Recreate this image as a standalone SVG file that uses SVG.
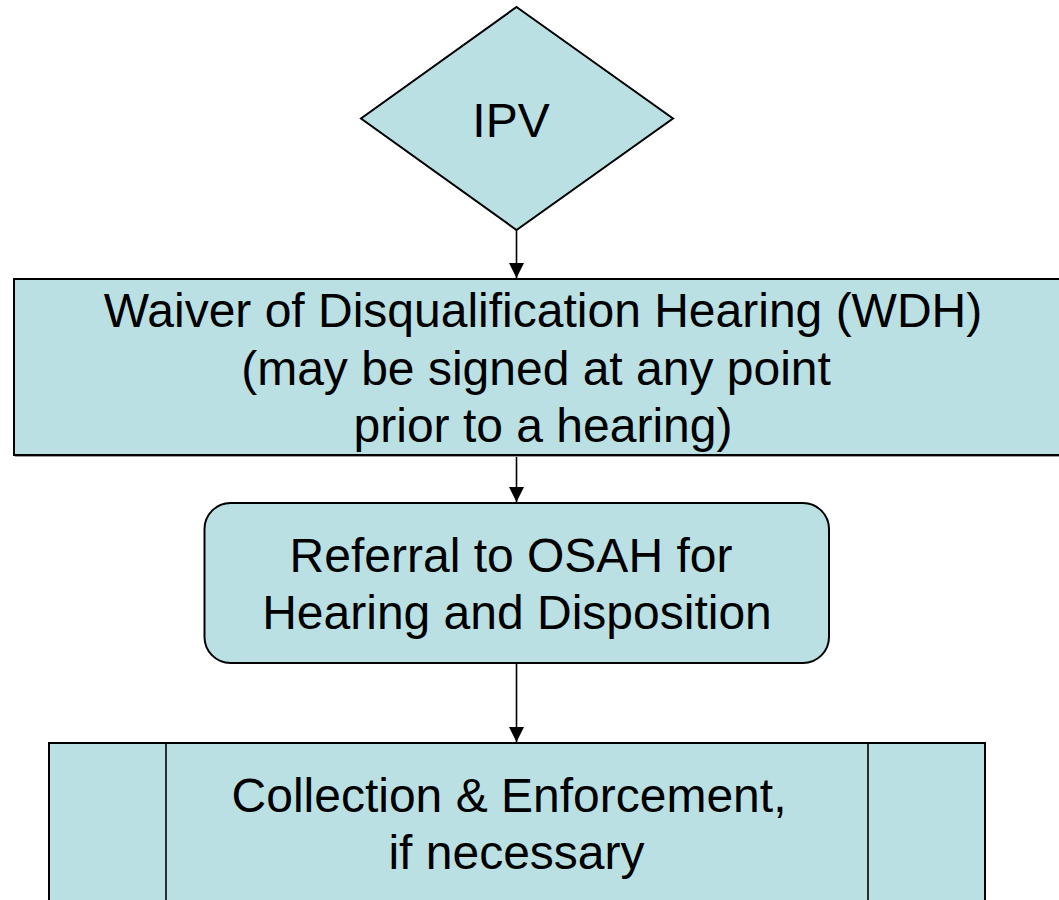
<svg xmlns="http://www.w3.org/2000/svg" width="1059" height="900" viewBox="0 0 1059 900">
<defs>
<style>
.n{fill:#BAE0E3;stroke:#000;stroke-width:2}
.t{font-family:"Liberation Sans",Arial,sans-serif;font-size:48px;fill:#000;text-anchor:middle}
.c{stroke:#000;stroke-width:1.6;fill:none}
.sh{fill:#9a9a9a}
</style>
<marker id="ah" viewBox="0 0 10 10" refX="10" refY="5" markerWidth="15" markerHeight="15" markerUnits="userSpaceOnUse" orient="auto">
<path d="M0,0 L10,5 L0,10 Z" fill="#000"/>
</marker>
</defs>
<rect width="1059" height="900" fill="#fff"/>
<g id="connectors">
<line class="c" x1="516.5" y1="230" x2="516.5" y2="278" marker-end="url(#ah)"/>
<line class="c" x1="516.5" y1="455" x2="516.5" y2="502" marker-end="url(#ah)"/>
<line class="c" x1="516.5" y1="663" x2="516.5" y2="742" marker-end="url(#ah)"/>
</g>
<g id="ipv">
<polygon class="n" points="516.5,7 673,118.5 516.5,230 361,118.5"/>
<text class="t" x="511" y="137">IPV</text>
</g>
<g id="wdh">
<rect class="sh" x="15" y="280" width="1060" height="177"/>
<rect class="n" x="14" y="279" width="1060" height="176"/>
<text class="t" x="543" y="327">Waiver of Disqualification Hearing (WDH)</text>
<text class="t" x="536" y="384.5">(may be signed at any point</text>
<text class="t" x="543" y="442">prior to a hearing)</text>
</g>
<g id="osah">
<rect class="n" x="204.5" y="503" width="624.5" height="160" rx="26" ry="26"/>
<text class="t" x="511" y="571.5">Referral to OSAH for</text>
<text class="t" x="517" y="629">Hearing and Disposition</text>
</g>
<g id="collection">
<rect class="n" x="49" y="743" width="936" height="180"/>
<line class="c" x1="166" y1="743" x2="166" y2="900" stroke-width="2"/>
<line class="c" x1="868" y1="743" x2="868" y2="900" stroke-width="2"/>
<text class="t" x="509" y="811.5">Collection &amp; Enforcement,</text>
<text class="t" x="516.5" y="869">if necessary</text>
</g>
</svg>
